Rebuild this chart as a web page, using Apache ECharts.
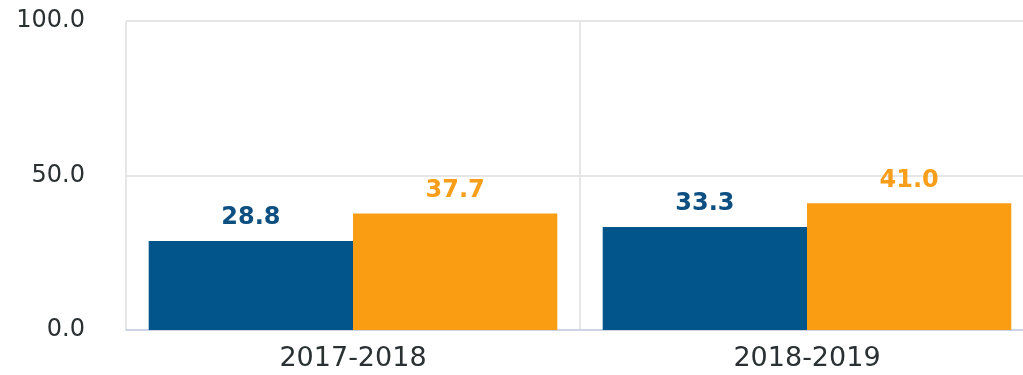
<!DOCTYPE html>
<html>
<head>
<meta charset="utf-8">
<script src="https://cdn.jsdelivr.net/npm/echarts@6/dist/echarts.min.js"></script>
<style>
  html, body { margin: 0; padding: 0; background: #ffffff; }
  #chart { width: 1023px; height: 375px; }
</style>
</head>
<body>
<div id="chart"></div>
<script>
// School years on the category axis
const categories = ['2017-2018', '2018-2019'];
// Two groups compared per year
const blueValues = [28.8, 33.3];
const orangeValues = [37.7, 41.0];
// Value axis range and step
const yMin = 0;
const yMax = 100;
const yStep = 50;

const FONT = 'DejaVu Sans';

const chart = echarts.init(document.getElementById('chart'), null, { renderer: 'canvas' });

function labelStyle(color) {
  return {
    show: true,
    position: 'top',
    distance: 11,
    color: color,
    fontFamily: FONT,
    fontWeight: 'bold',
    fontSize: 24,
    formatter: p => p.value.toFixed(1)
  };
}

chart.setOption({
  animation: false,
  backgroundColor: '#ffffff',
  // plot area runs a little past the right edge of the canvas
  grid: {
    left: 126, width: 908, top: 21, bottom: 45,
    containLabel: false,
    outerBoundsMode: 'none'
  },
  xAxis: {
    type: 'category',
    data: categories,
    boundaryGap: true,
    axisLine: { show: true, lineStyle: { color: '#cdd4e6', width: 2 } },
    axisTick: { show: false },
    splitLine: { show: true, lineStyle: { color: '#e6e6e6', width: 2 } },
    axisLabel: {
      color: '#2b3033',
      fontFamily: FONT,
      fontSize: 27,
      margin: 15
    }
  },
  yAxis: {
    type: 'value',
    min: yMin,
    max: yMax,
    interval: yStep,
    axisLine: { show: false },
    axisTick: { show: false },
    splitLine: { show: true, lineStyle: { color: '#e6e6e6', width: 2 } },
    axisLabel: {
      color: '#2b3033',
      fontFamily: FONT,
      fontSize: 24,
      margin: 41,
      formatter: v => v.toFixed(1)
    }
  },
  series: [
    {
      name: 'blue',
      type: 'bar',
      data: blueValues,
      barGap: '0%',
      barCategoryGap: '10%',
      itemStyle: { color: '#02558a' },
      label: labelStyle('#0c4f80')
    },
    {
      name: 'orange',
      type: 'bar',
      data: orangeValues,
      barGap: '0%',
      barCategoryGap: '10%',
      itemStyle: { color: '#fb9d12' },
      label: labelStyle('#f89e1a')
    }
  ]
});
</script>
</body>
</html>
